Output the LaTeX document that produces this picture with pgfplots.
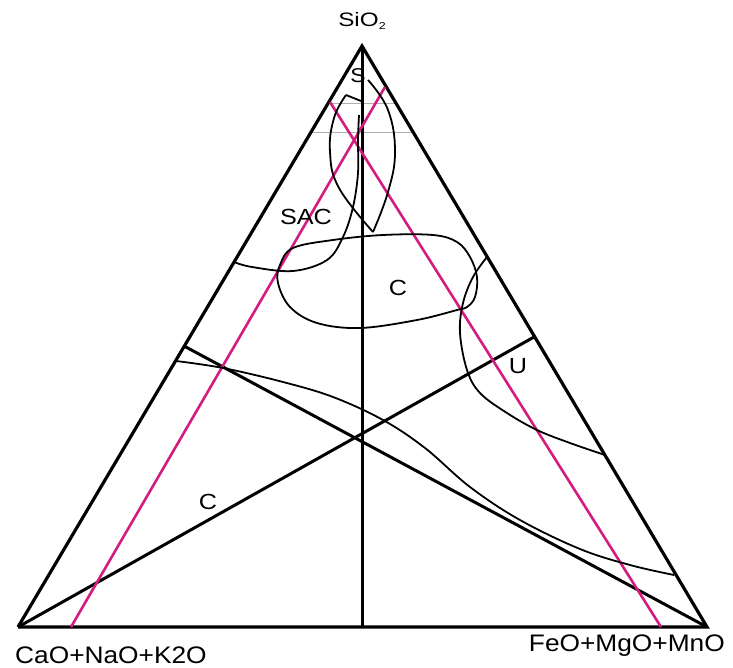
\documentclass[border=0pt]{standalone}
\usepackage{pgfplots}
\pgfplotsset{compat=1.18}
\usepackage{fontspec}
\setmainfont{Liberation Sans}
\newfontfamily\labA[FakeStretch=1.1]{Liberation Sans}
\newfontfamily\labB[FakeStretch=1.15]{Liberation Sans}
\newfontfamily\labC[FakeStretch=1.25]{Liberation Sans}
\definecolor{pinkl}{RGB}{212,28,128}
\definecolor{grayl}{RGB}{175,175,175}
\begin{document}
\begin{tikzpicture}
\begin{axis}[
  width=733bp, height=668bp, scale only axis,
  xmin=0, xmax=733, ymin=0, ymax=668, y dir=reverse,
  hide axis, clip=false,
]
% bounding box
\addplot[draw=none, forget plot] coordinates {(0,0) (733,668)};
% gray horizontal lines
\addplot[grayl, line width=1pt] coordinates {(329,103) (396,103)};
\addplot[grayl, line width=1pt] coordinates {(312,132) (413,132)};
% triangle
\addplot[black, line width=3.2pt, line join=miter] coordinates {(18,627) (362,46) (707,627) (18,627)};
% medians
\addplot[black, line width=3pt] coordinates {(362,46) (362,627)};
\addplot[black, line width=3pt] coordinates {(18,627) (534,337)};
\addplot[black, line width=3pt] coordinates {(707,627) (184,346)};
% pink lines
\addplot[pinkl, line width=2.6pt] coordinates {(71,627) (385,87)};
\addplot[pinkl, line width=2.6pt] coordinates {(330,102) (661,627)};
% leaf (S) region
\addplot[black, line width=1.8pt] coordinates {(361,101) (346,95)};
\addplot[black, line width=1.8pt, smooth, tension=0.7] coordinates {(346,95) (334,118) (330,152) (339,188) (373,232)};
\addplot[black, line width=1.8pt, smooth, tension=0.7] coordinates {(373,232) (388,192) (395,152) (388,110) (368,80)};
% SAC curve
\addplot[black, line width=1.8pt, smooth, tension=0.6] coordinates {(234,262) (252,267) (293,271) (327,260) (343,237) (353,207) (358,173) (358,140) (359,115)};
% C loop
\addplot[black, line width=1.8pt, smooth cycle, tension=0.6] coordinates {(280,265) (293,248) (333,240) (383,235) (433,235) (457,242) (470,257) (477,277) (475,297) (467,307) (457,310) (417,320) (360,328) (317,323) (290,307) (278,283)};
% curve to right edge (U region)
\addplot[black, line width=1.8pt, smooth, tension=0.6] coordinates {(487,257) (473,277) (463,303) (460,333) (467,370) (480,393) (507,413) (537,430) (570,443) (605,455)};
% long lower curve
\addplot[black, line width=1.8pt, smooth, tension=0.6] coordinates {(176,361) (223,368) (283,382) (333,397) (383,420) (425,448) (470,487) (520,520) (580,549) (630,565) (674,575)};
% labels
\node[font=\labC\fontsize{19.5}{20}\selectfont] at (axis cs:362,21) {SiO\raisebox{-0.35ex}{\fontsize{10}{10}\selectfont 2}};
\node[font=\labB\fontsize{20}{22}\selectfont] at (axis cs:358,76) {S};
\node[font=\labB\fontsize{22}{24}\selectfont] at (axis cs:306,217) {SAC};
\node[font=\labB\fontsize{22}{24}\selectfont] at (axis cs:398,288) {C};
\node[font=\labB\fontsize{22}{24}\selectfont] at (axis cs:518,366) {U};
\node[font=\labB\fontsize{22}{24}\selectfont] at (axis cs:208,502) {C};
\node[font=\labA\fontsize{24}{26}\selectfont, anchor=west, inner sep=0pt] at (axis cs:15,655) {CaO+NaO+K2O};
\node[font=\labA\fontsize{24}{26}\selectfont, anchor=east, inner sep=0pt] at (axis cs:725,646) {FeO+MgO+MnO};
\end{axis}
\end{tikzpicture}
\end{document}
